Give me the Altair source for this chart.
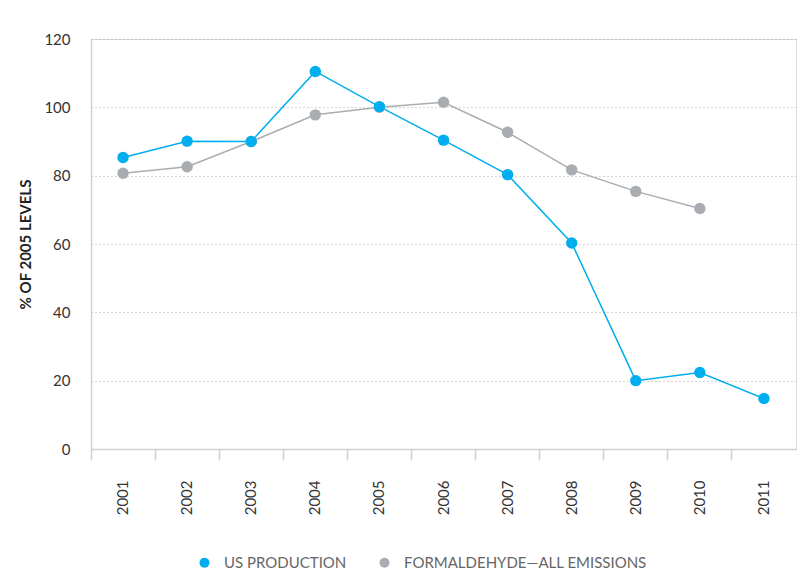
import altair as alt
import pandas as pd

years = [str(y) for y in range(2001, 2012)]
us_production = [85.3, 90.1, 90.0, 110.5, 100.2, 90.4, 80.3, 60.3, 20.0, 22.4, 14.8]
formaldehyde_years = years[:10]
formaldehyde = [80.7, 82.6, 90.0, 97.8, 100.0, 101.5, 92.7, 81.7, 75.4, 70.4]
series_names = ["US PRODUCTION", "FORMALDEHYDE—ALL EMISSIONS"]
series_colors = ["#00AEEF", "#A9ADB2"]
y_ticks = [0, 20, 40, 60, 80, 100, 120]

rows = []
# formaldehyde first so US production is drawn on top
for yr, v in zip(formaldehyde_years, formaldehyde):
    rows.append({"year": yr, "value": v, "series": series_names[1], "z": 0})
for yr, v in zip(years, us_production):
    rows.append({"year": yr, "value": v, "series": series_names[0], "z": 1})
df = pd.DataFrame(rows)

FONT = "Lato"

x_enc = alt.X(
    "year:O",
    sort=years,
    bandPosition=0.5,
    scale=alt.Scale(type="band", domain=years, paddingInner=0, paddingOuter=0),
    axis=alt.Axis(
        title=None,
        labelAngle=-90,
        bandPosition=0,
        tickSize=11,
        tickColor="#d0d0d0",
        tickWidth=1.5,
        domainColor="#d0d0d0",
        domainWidth=1.5,
        labelPadding=20,
        labelFont=FONT,
        labelFontSize=15,
        labelColor="#333333",
        grid=False,
    ),
)

y_enc = alt.Y(
    "value:Q",
    scale=alt.Scale(domain=[0, 120], nice=False),
    axis=alt.Axis(
        values=y_ticks,
        title="% OF 2005 LEVELS",
        titleFont=FONT,
        titleFontSize=15,
        titleFontWeight="bold",
        titleColor="#222222",
        titleX=-58,
        titleY=205,
        ticks=False,
        labelPadding=21,
        labelFont=FONT,
        labelFontSize=15,
        labelColor="#333333",
        domainColor="#d0d0d0",
        domainWidth=1.5,
        grid=True,
        gridDash=[1, 3],
        gridColor="#aaaaaa",
        gridWidth=1,
    ),
)

color_scale = alt.Scale(domain=series_names, range=series_colors)
legend = alt.Legend(
    title=None,
    orient="none",
    direction="horizontal",
    legendX=106,
    legendY=516,
    symbolType="circle",
    symbolSize=100,
    symbolStrokeWidth=0,
    labelFont=FONT,
    labelFontSize=15,
    labelColor="#666666",
    labelOffset=12,
    labelLimit=500,
    columnPadding=30,
    padding=0,
)
color_enc = alt.Color("series:N", scale=color_scale, legend=legend)

base = alt.Chart(df)

lines = base.mark_line(strokeWidth=1.5).encode(
    x=x_enc,
    y=y_enc,
    color=color_enc,
    order=alt.Order("z:Q"),
)

points = base.mark_point(filled=True, size=130, opacity=1).encode(
    x=x_enc,
    y=y_enc,
    color=color_enc,
    order=alt.Order("z:Q"),
)

chart = (
    alt.layer(lines, points)
    .properties(
        width=705,
        height=410,
        autosize=alt.AutoSizeParams(type="none"),
        padding={"left": 83, "top": 31, "right": 5, "bottom": 127},
    )
    .configure_view(stroke=None)
    .configure(background="white")
)

chart.save("out.html", embed_options={"renderer": "svg", "actions": False})
